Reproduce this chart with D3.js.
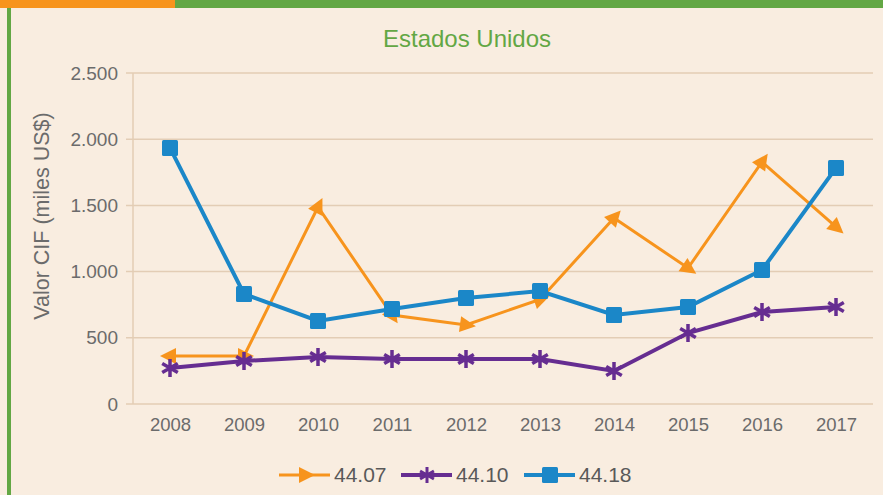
<!DOCTYPE html>
<html>
<head>
<meta charset="utf-8">
<script src="https://cdn.jsdelivr.net/npm/d3@7"></script>
<style>
  body { margin: 0; background: #f9ede0; }
  svg { display: block; }
</style>
</head>
<body>
<div id="chart"></div>
<script>
// data
const years = ["2008", "2009", "2010", "2011", "2012", "2013", "2014", "2015", "2016", "2017"];
const s4407 = [363, 363, 1488, 672, 597, 790, 1405, 1027, 1828, 1337];
const s4410 = [272, 325, 355, 340, 340, 340, 249, 536, 695, 733];
const s4418 = [1934, 831, 627, 718, 800, 853, 672, 733, 1012, 1783];
const yTicks = [0, 500, 1000, 1500, 2000, 2500];
const seriesNames = ["44.07", "44.10", "44.18"];
const colors = ["#f7941d", "#662d91", "#1b87c8"];

const W = 883, H = 495;
const margin = {top: 73, right: 10, bottom: 91, left: 133};
const width = 740, height = H - margin.top - margin.bottom;
const font = "Liberation Sans, Arial, sans-serif";

const svg = d3.select("#chart").append("svg")
    .attr("width", W).attr("height", H);

svg.append("rect").attr("width", W).attr("height", H).attr("fill", "#f9ede0");
// top banner + left border
svg.append("rect").attr("x", 0).attr("y", 0).attr("width", W).attr("height", 8).attr("fill", "#63a744");
svg.append("rect").attr("x", 0).attr("y", 0).attr("width", 175).attr("height", 8).attr("fill", "#f7941d");
svg.append("rect").attr("x", 7).attr("y", 8).attr("width", 4).attr("height", H - 8).attr("fill", "#63a744");

svg.append("text")
    .attr("x", 467).attr("y", 47)
    .attr("text-anchor", "middle")
    .attr("font-family", font)
    .attr("font-size", 24)
    .attr("fill", "#63a744")
    .text("Estados Unidos");

const g = svg.append("g").attr("transform", `translate(${margin.left},${margin.top})`);

const x = d3.scalePoint().domain(years).range([0, width]).padding(0.5);
const y = d3.scaleLinear().domain([0, 2500]).range([height, 0]);

// grid
g.selectAll(".grid").data(yTicks).enter().append("line")
    .attr("x1", -7).attr("x2", width)
    .attr("y1", d => y(d)).attr("y2", d => y(d))
    .attr("stroke", "#e3cdb5").attr("stroke-width", 1.5);

g.append("line").attr("x1", 0).attr("x2", 0).attr("y1", 0).attr("y2", height)
    .attr("stroke", "#e3cdb5").attr("stroke-width", 1.5);

const fmt = d => d3.format(",")(d).replace(/,/g, ".");

const yAxis = g.append("g").call(d3.axisLeft(y).tickValues(yTicks).tickSize(0).tickPadding(15).tickFormat(fmt));
yAxis.select(".domain").remove();
yAxis.selectAll("text").attr("font-family", font)
    .attr("font-size", 19).attr("fill", "#6b6b6b");

const xAxis = g.append("g").attr("transform", `translate(0,${height})`)
    .call(d3.axisBottom(x).tickSize(0).tickPadding(14));
xAxis.select(".domain").remove();
xAxis.selectAll("text").attr("font-family", font)
    .attr("font-size", 18.5).attr("fill", "#6b6b6b");

svg.append("text")
    .attr("transform", "translate(49,216) rotate(-90)")
    .attr("text-anchor", "middle")
    .attr("font-family", font)
    .attr("font-size", 21.5)
    .attr("fill", "#6b6b6b")
    .text("Valor CIF (miles US$)");

const allSeries = [s4407, s4410, s4418];
const line = d3.line().x((d, i) => x(years[i])).y(d => y(d));

function starPath(r) {
    let p = "";
    for (let k = 0; k < 3; k++) {
        const a = Math.PI / 2 + k * Math.PI / 3;
        p += `M${r * Math.cos(a)},${r * Math.sin(a)}L${-r * Math.cos(a)},${-r * Math.sin(a)}`;
    }
    return p;
}
const triPath = "M10,0L-6,-8L-6,8Z";

allSeries.forEach((vals, si) => {
    g.append("path").datum(vals)
        .attr("d", line)
        .attr("fill", "none")
        .attr("stroke", colors[si])
        .attr("stroke-width", si === 0 ? 3 : 4);

    vals.forEach((v, i) => {
        const px = x(years[i]), py = y(v);
        if (si === 0) {
            // arrow-like triangle pointing along the incoming segment
            let ang;
            if (i === 0) {
                ang = Math.atan2(py - y(vals[1]), px - x(years[1]));
            } else {
                ang = Math.atan2(py - y(vals[i - 1]), px - x(years[i - 1]));
            }
            g.append("path").attr("d", triPath).attr("fill", colors[0])
                .attr("transform", `translate(${px},${py}) rotate(${ang * 180 / Math.PI})`);
        } else if (si === 1) {
            g.append("path").attr("d", starPath(9)).attr("stroke", colors[1])
                .attr("stroke-width", 3.5).attr("fill", "none")
                .attr("transform", `translate(${px},${py})`);
        } else {
            g.append("rect").attr("x", px - 8).attr("y", py - 8)
                .attr("width", 16).attr("height", 16).attr("rx", 1.5)
                .attr("fill", colors[2]);
        }
    });
});

// legend
const legendX = [279, 401, 524];
const legend = svg.append("g").attr("transform", "translate(0,475)");
seriesNames.forEach((name, si) => {
    const lx = legendX[si];
    legend.append("line").attr("x1", lx).attr("x2", lx + 51).attr("y1", 0).attr("y2", 0)
        .attr("stroke", colors[si]).attr("stroke-width", si === 0 ? 3 : 4);
    const cx = lx + 26;
    if (si === 0) {
        legend.append("path").attr("d", triPath).attr("fill", colors[0])
            .attr("transform", `translate(${cx},0)`);
    } else if (si === 1) {
        legend.append("path").attr("d", starPath(8)).attr("stroke", colors[1])
            .attr("stroke-width", 3).attr("fill", "none")
            .attr("transform", `translate(${cx},0)`);
    } else {
        legend.append("rect").attr("x", cx - 8).attr("y", -8).attr("width", 16).attr("height", 16)
            .attr("rx", 1.5).attr("fill", colors[2]);
    }
    legend.append("text").attr("x", lx + 55).attr("y", 7)
        .attr("font-family", font)
        .attr("font-size", 21).attr("fill", "#595959")
        .text(name);
});
</script>
</body>
</html>
